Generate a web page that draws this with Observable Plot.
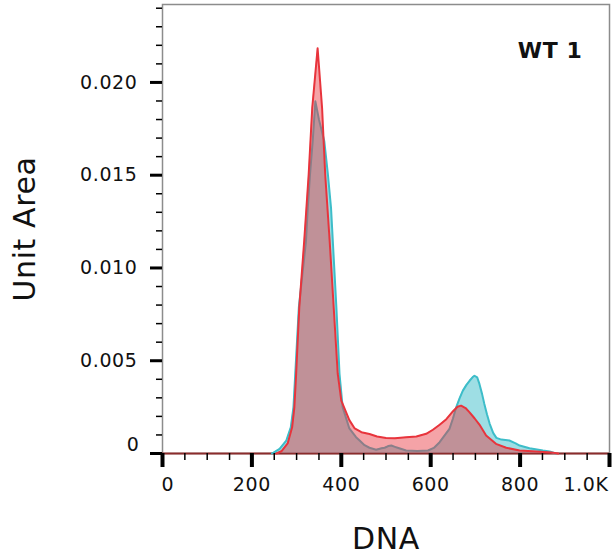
<!DOCTYPE html>
<html>
<head>
<meta charset="utf-8">
<script src="https://cdn.jsdelivr.net/npm/d3@7"></script>
<script src="https://cdn.jsdelivr.net/npm/@observablehq/plot@0.6"></script>
<style>
  html, body { margin: 0; padding: 0; background: #fff; }
  #chart svg { display: block; }
</style>
</head>
<body>
<div id="chart"></div>
<script>
// ---- data ----
const redDna  = [255, 266, 280, 290, 295, 299, 306, 317, 327, 335, 347, 357, 364, 374, 383, 392, 400, 418, 430, 445, 463, 480, 500, 520, 545, 568, 590, 605, 620, 635, 650, 660, 668, 678, 687, 698, 709, 724, 746, 769, 799, 836, 870, 885];
const redArea = [0, 0.00012, 0.00054, 0.00141, 0.00249, 0.0043, 0.00787, 0.01145, 0.01504, 0.01862, 0.02184, 0.01862, 0.01504, 0.01145, 0.00787, 0.0043, 0.00285, 0.0018, 0.00135, 0.00115, 0.00105, 0.00092, 0.00084, 0.00082, 0.00087, 0.00092, 0.00106, 0.00128, 0.00155, 0.00185, 0.00228, 0.00252, 0.00258, 0.00245, 0.00222, 0.0019, 0.00156, 0.00097, 0.00052, 0.00031, 0.00016, 0.00011, 0.00005, 0];

const cyanDna  = [245, 262, 277, 287, 293, 297, 305, 321, 325, 330, 336, 342, 350, 362, 370, 377, 381, 389, 396, 403, 418, 433, 441, 452, 463, 478, 490, 497, 505, 512, 520, 526, 545, 570, 594, 607, 620, 632, 642, 650, 657, 665, 672, 680, 687, 694, 698, 704, 709, 715, 720, 726, 732, 740, 747, 758, 776, 790, 799, 821, 851, 866, 880];
const cyanArea = [0, 0.00025, 0.0007, 0.00141, 0.0025, 0.0043, 0.00787, 0.01145, 0.01324, 0.01504, 0.01683, 0.01898, 0.0180, 0.01683, 0.01504, 0.01324, 0.01145, 0.00787, 0.0043, 0.0025, 0.00135, 0.00088, 0.0007, 0.00045, 0.00031, 0.0002, 0.00028, 0.00031, 0.0004, 0.00043, 0.00036, 0.00031, 0.00016, 0.00014, 0.00016, 0.0003, 0.00061, 0.001, 0.00133, 0.0019, 0.00249, 0.003, 0.00339, 0.0037, 0.00392, 0.00412, 0.00419, 0.0041, 0.00375, 0.0032, 0.00267, 0.0021, 0.0016, 0.0011, 0.00084, 0.00075, 0.0007, 0.00055, 0.00043, 0.00028, 0.00016, 0.00011, 0];

const xMajor  = [0, 200, 400, 600, 800, 1000];
const xLabels = ["0", "200", "400", "600", "800", "1.0K"];
const xMinor  = [50, 100, 150, 250, 300, 350, 450, 500, 550, 650, 700, 750, 850, 900, 950];
const yMajor  = [0, 0.005, 0.010, 0.015, 0.020];
const yLabels = ["0", "0.005", "0.010", "0.015", "0.020"];
const yMinor  = [0.001, 0.002, 0.003, 0.004, 0.006, 0.007, 0.008, 0.009, 0.011, 0.012, 0.013, 0.014, 0.016, 0.017, 0.018, 0.019, 0.021, 0.022, 0.023, 0.024];

const sampleName = "WT 1";
const xTitle = "DNA";
const yTitle = "Unit Area";

// ---- tables built from the arrays ----
const red  = redDna.map((d, i) => ({dna: d, area: redArea[i]}));
const cyan = cyanDna.map((d, i) => ({dna: d, area: cyanArea[i]}));

const RED = "#e8343c";
const CYAN = "#3dbdc9";
const xFmt = d => xLabels[xMajor.indexOf(d)];
const yFmt = d => yLabels[yMajor.findIndex(v => Math.abs(v - d) < 1e-9)];

const chart = Plot.plot({
  width: 616,
  height: 556,
  marginLeft: 162,
  marginRight: 7,
  marginTop: 4,
  marginBottom: 103,
  style: {fontFamily: "DejaVu Sans, sans-serif", fontSize: "19px", color: "#111", letterSpacing: "0.6px", background: "#fff"},
  x: {domain: [0, 1000]},
  y: {domain: [0, 0.0242]},
  marks: [
    Plot.frame({stroke: "#8c8c8c", strokeWidth: 1.5}),
    Plot.ruleY([0], {stroke: "#8b2c2c", strokeWidth: 2}),
    Plot.areaY(cyan, {x: "dna", y: "area", fill: CYAN, fillOpacity: 0.5}),
    Plot.line(cyan, {x: "dna", y: "area", stroke: CYAN, strokeWidth: 2}),
    Plot.areaY(red, {x: "dna", y: "area", fill: RED, fillOpacity: 0.45}),
    Plot.line(red, {x: "dna", y: "area", stroke: RED, strokeWidth: 2}),
    // x ticks
    Plot.axisX(xMajor, {tickSize: 14, strokeWidth: 4, stroke: "#000", fill: "none", label: null}),
    Plot.axisX(xMinor, {tickSize: 7, strokeWidth: 1.5, stroke: "#000", fill: "none", label: null}),
    Plot.axisX([xMajor[0]], {tickSize: 0, tickPadding: 24, tickFormat: xFmt, textAnchor: "start", dx: -1, fill: "#111", label: null}),
    Plot.axisX(xMajor.slice(1, -1), {tickSize: 0, tickPadding: 24, tickFormat: xFmt, fill: "#111", label: null}),
    Plot.axisX([xMajor[xMajor.length - 1]], {tickSize: 0, tickPadding: 24, tickFormat: xFmt, textAnchor: "end", dx: -1, fill: "#111", label: null}),
    // y ticks
    Plot.axisY(yMajor, {tickSize: 12, strokeWidth: 3, stroke: "#000", fill: "none", label: null}),
    Plot.axisY(yMinor, {tickSize: 6, strokeWidth: 1.5, stroke: "#000", fill: "none", label: null}),
    Plot.axisY([yMajor[0]], {tickSize: 0, tickPadding: 23, tickFormat: yFmt, dy: -9, fill: "#111", label: null}),
    Plot.axisY(yMajor.slice(1), {tickSize: 0, tickPadding: 25, tickFormat: yFmt, fill: "#111", label: null}),
    // titles
    Plot.text([xTitle], {text: d => d, frameAnchor: "bottom", lineAnchor: "middle", textAnchor: "middle", dy: 86, fontSize: 30, fill: "#111"}),
    Plot.text([yTitle], {text: d => d, frameAnchor: "left", textAnchor: "middle", lineAnchor: "middle", dx: -137, rotate: -90, fontSize: 30, fill: "#111"}),
    Plot.text([sampleName], {text: d => d, frameAnchor: "top-right", textAnchor: "end", dx: -27, dy: 38, fontSize: 22, fontWeight: "bold", fill: "#111"})
  ]
});
document.getElementById("chart").appendChild(chart);
</script>
</body>
</html>
